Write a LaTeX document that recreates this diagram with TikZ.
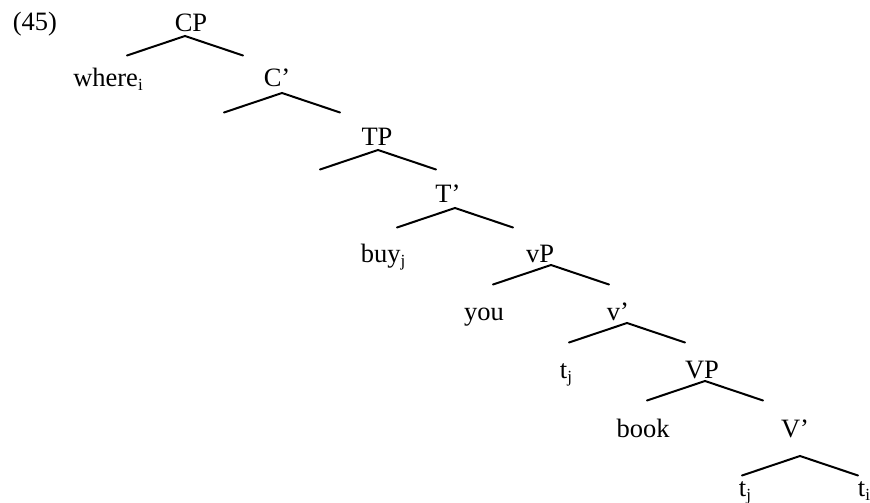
\documentclass[tikz,border=0pt]{standalone}
\usepackage{fontspec}
\setmainfont{Liberation Serif}
\usetikzlibrary{positioning}

\newcommand{\idx}[1]{\raisebox{-4pt}{\fontsize{17}{19}\selectfont #1}}

\tikzset{
  lbl/.style={font=\fontsize{26.5}{32}\selectfont, inner sep=0pt, anchor=base},
  branch/.style={line width=2pt, line cap=round}
}

\begin{document}
\begin{tikzpicture}[x=1pt, y=-1pt]
  \useasboundingbox (0,0) rectangle (870,503);
  % labels, placed on their baselines
  \node[lbl] (ex)    at (35,31)   {(45)};
  \node[lbl] (cp)    at (191,32)  {CP};
  \node[lbl] (where) at (108,86)  {where\idx{i}};
  \node[lbl] (cbar)  at (277,86)  {C’};
  \node[lbl] (tp)    at (377,145) {TP};
  \node[lbl] (tbar)  at (448,202) {T’};
  \node[lbl] (buy)   at (383,262) {buy\idx{j}};
  \node[lbl] (svp)   at (540,262) {vP};
  \node[lbl] (you)   at (484,320) {you};
  \node[lbl] (svbar) at (618,320) {v’};
  \node[lbl] (tja)   at (566,378) {t\idx{j}};
  \node[lbl] (bvp)   at (702,378) {VP};
  \node[lbl] (book)  at (643,437) {book};
  \node[lbl] (bvbar) at (795,437) {V’};
  \node[lbl] (tjb)   at (745,496) {t\idx{j}};
  \node[lbl] (ti)    at (864,496) {t\idx{i}};
  % branches under each phrase label
  \foreach \n/\x/\y in {cp/185/36, cbar/282/93, tp/378/150, tbar/455/208,
                        svp/551/265, svbar/627/323, bvp/705/381, bvbar/800/456} {
    \coordinate (\n-top) at (\x,\y);
    \coordinate (\n-l) at ([shift={(-58,19.5)}]\n-top);
    \coordinate (\n-r) at ([shift={(58,19.5)}]\n-top);
    \draw[branch] (\n-l) -- (\n-top) -- (\n-r);
  }
\end{tikzpicture}
\end{document}
